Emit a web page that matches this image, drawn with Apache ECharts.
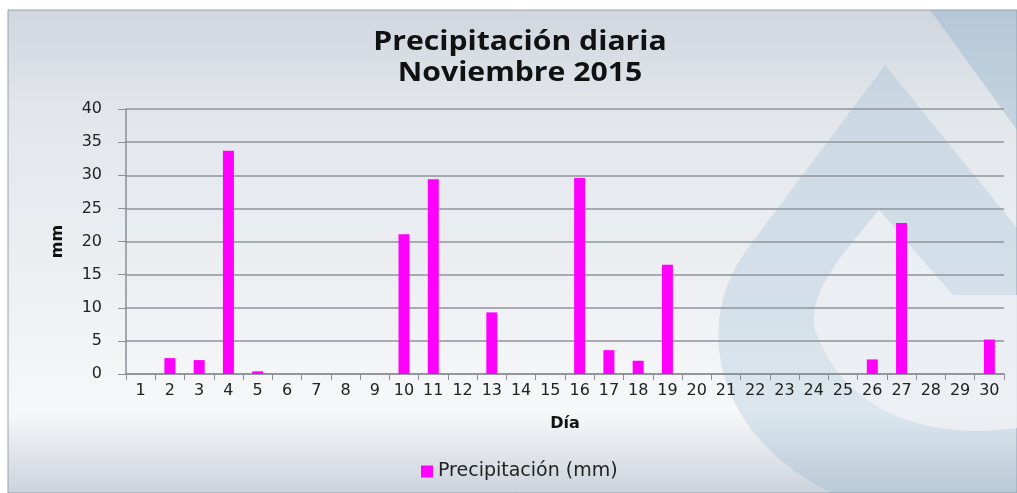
<!DOCTYPE html>
<html>
<head>
<meta charset="utf-8">
<script src="https://cdn.jsdelivr.net/npm/echarts@6/dist/echarts.min.js"></script>
<style>
  html, body { margin: 0; padding: 0; background: #fff; }
  #chart { width: 1017px; height: 493px; }
</style>
</head>
<body>
<div id="chart"></div>
<script>
// Daily rainfall, November 2015
const days = ['1','2','3','4','5','6','7','8','9','10','11','12','13','14','15',
              '16','17','18','19','20','21','22','23','24','25','26','27','28','29','30'];
const precip = [0, 2.4, 2.1, 33.7, 0.4, 0, 0, 0, 0, 21.1, 29.4, 0, 9.3, 0, 0,
                29.6, 3.6, 2.0, 16.5, 0, 0, 0, 0, 0, 0, 2.2, 22.8, 0, 0, 5.2];
const yTicks = [0, 5, 10, 15, 20, 25, 30, 35, 40];

const chart = echarts.init(document.getElementById('chart'));

const labelFont = 'DejaVu Sans';

// flatten a list of straight points and cubic segments into polygon points (watermark only)
function outline(parts) {
    const pts = [];
    parts.forEach(function (p) {
        if (p.length === 2) { pts.push(p); return; }
        const p0 = pts[pts.length - 1];
        for (let i = 1; i <= 16; i++) {
            const t = i / 16, u = 1 - t;
            pts.push([
                u * u * u * p0[0] + 3 * u * u * t * p[0] + 3 * u * t * t * p[2] + t * t * t * p[4],
                u * u * u * p0[1] + 3 * u * u * t * p[1] + 3 * u * t * t * p[3] + t * t * t * p[5]
            ]);
        }
    });
    return pts;
}

const dropOuter = outline([[885, 65], [1017, 228], [1017, 493], [832, 493],
    [720, 440, 690, 330, 745, 252]]);
const dropHole = outline([[879, 210], [953, 295], [1017, 295], [1017, 428],
    [930, 440, 845, 415, 815, 330], [808, 295, 835, 262, 879, 210]]);

const option = {
    animation: false,
    graphic: [
        // panel background
        {
            type: 'rect', z: -20,
            shape: { x: 8, y: 10, width: 1009, height: 483 },
            style: {
                fill: new echarts.graphic.LinearGradient(0, 0, 0, 1, [
                    { offset: 0, color: '#d0d6df' },
                    { offset: 0.2, color: '#e2e6eb' },
                    { offset: 0.6, color: '#eef0f3' },
                    { offset: 0.83, color: '#f7f8f9' },
                    { offset: 1, color: '#ccd3dc' }
                ]),
                stroke: '#9aa0a8', lineWidth: 1
            }
        },
        {
            type: 'polygon', z: -15,
            shape: { points: [[930, 10], [1017, 10], [1017, 130]] },
            style: { fill: 'rgba(120,165,195,0.3)' }
        },
        {
            type: 'polygon', z: -15,
            shape: { points: dropOuter },
            style: { fill: 'rgba(125,170,200,0.22)' }
        },
        {
            type: 'polygon', z: -14,
            shape: { points: dropHole },
            style: { fill: 'rgba(239,241,244,0.85)' }
        },
        // title
        {
            type: 'text', z: 10,
            x: 520, y: 27, scaleX: 1.16,
            style: {
                text: 'Precipitación diaria\nNoviembre 2015',
                align: 'center',
                font: 'bold 26px "Open Sans"',
                lineHeight: 31,
                fill: '#111'
            }
        }
    ],
    grid: {
        left: 126, right: 13, top: 109, bottom: 119,
        containLabel: false
    },
    legend: {
        data: ['Precipitación (mm)'],
        left: 416, top: 457,
        icon: 'rect',
        itemWidth: 12, itemHeight: 12,
        itemGap: 6,
        textStyle: { fontFamily: labelFont, fontSize: 19, color: '#222' }
    },
    xAxis: {
        type: 'category',
        data: days,
        boundaryGap: true,
        name: 'Día',
        nameLocation: 'middle',
        nameGap: 42,
        nameTextStyle: { fontFamily: labelFont, fontSize: 16, fontWeight: 'bold', color: '#111' },
        axisLine: { lineStyle: { color: '#8a8f96', width: 1.5 } },
        axisTick: { show: true, length: 6, lineStyle: { color: '#8a8f96' } },
        axisLabel: { fontFamily: labelFont, fontSize: 16, color: '#222', margin: 9, interval: 0 },
        splitLine: { show: false }
    },
    yAxis: {
        type: 'value',
        min: 0, max: 40, interval: 5,
        name: 'mm',
        nameLocation: 'middle',
        nameGap: 60,
        nameRotate: 90,
        nameTextStyle: { fontFamily: labelFont, fontSize: 16, fontWeight: 'bold', color: '#111' },
        axisLine: { show: true, lineStyle: { color: '#8a8f96', width: 1.5 } },
        axisTick: { show: true, inside: false, length: 8, lineStyle: { color: '#8a8f96' } },
        axisLabel: {
            fontFamily: labelFont, fontSize: 16, color: '#222', margin: 24,
            formatter: function (v) { return yTicks.indexOf(v) >= 0 ? String(v) : ''; }
        },
        splitLine: { lineStyle: { color: '#8f949b', width: 1.5 } }
    },
    series: [
        {
            name: 'Precipitación (mm)',
            type: 'bar',
            data: precip,
            barWidth: 11,
            itemStyle: { color: '#ff00ff' }
        }
    ]
};

chart.setOption(option);
</script>
</body>
</html>
